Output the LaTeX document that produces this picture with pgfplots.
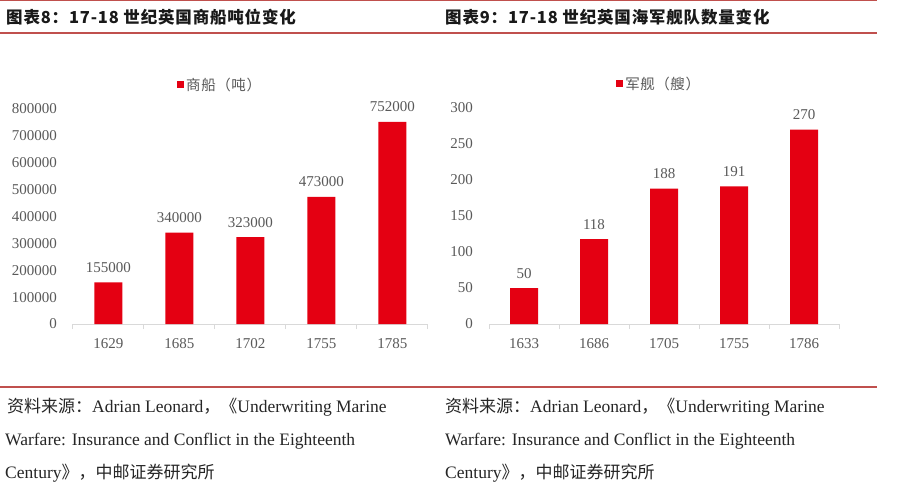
\documentclass[border=0pt]{standalone}
\usepackage{fontspec}
\setmainfont{Liberation Serif}
\newfontfamily\cjk{Noto Sans CJK SC}
\newfontfamily\cjkt{Noto Sans CJK SC}[LetterSpace=5]
\newfontfamily\cjkl{Noto Sans CJK SC}[LetterSpace=4]
\usepackage{pgfplots}
\pgfplotsset{compat=1.18}
\definecolor{barred}{RGB}{228,0,18}
\definecolor{linered}{RGB}{192,80,77}
\definecolor{ticktxt}{RGB}{89,89,89}
\definecolor{axisgray}{RGB}{217,217,217}
\definecolor{srctxt}{RGB}{38,38,38}
\definecolor{titletxt}{RGB}{25,25,25}
\pgfplotsset{
  mybar/.style={
    scale only axis, ybar, bar width=28pt,
    xmin=-0.5, xmax=4.5, ymin=0,
    xtick={0,1,2,3,4},
    major tick length=0pt,
    major x tick style={draw=none},
    extra x ticks={-0.5,0.5,1.5,2.5,3.5,4.5},
    extra x tick labels={},
    extra x tick style={major tick length=5pt, major x tick style={draw=axisgray, line width=1pt}},
    tick align=outside,
    axis lines*=left,
    x axis line style={draw=axisgray, line width=1pt},
    y axis line style={draw=none},
    major y tick style={draw=none},
    scaled y ticks=false,
    /pgf/number format/.cd, fixed, precision=0, 1000 sep={}, assume math mode=true,
    /pgfplots/.cd,
    xticklabel style={font=\fontsize{15}{15}\selectfont, text=ticktxt, anchor=base, inner sep=0pt, yshift=-24pt},
    yticklabel style={font=\fontsize{15}{15}\selectfont, text=ticktxt, anchor=east, inner sep=0pt, xshift=-16pt},
    nodes near coords,
    every node near coord/.append style={font=\fontsize{15}{15}\selectfont, text=ticktxt, anchor=base, inner sep=0pt, yshift=10pt},
    legend style={draw=none, fill=none, inner sep=0pt, font=\cjkl\fontsize{14.5}{14.5}\selectfont, text=ticktxt},
    legend image code/.code={\fill[barred] (0pt,-3.5pt) rectangle (7pt,3.5pt);},
  }
}
\begin{document}
\begin{tikzpicture}
\path[use as bounding box, fill=white] (0,0) rectangle (900pt,488pt);
% rules
\draw[linered, line width=1.2pt] (0,487.4pt) -- (877pt,487.4pt);
\draw[linered, line width=1.2pt] (0,455pt) -- (877pt,455pt);
\draw[linered, line width=1.2pt] (0,101pt) -- (877pt,101pt);
% titles
\node[anchor=west, inner sep=0pt, text=titletxt] at (6pt,470.5pt) {\cjkt\bfseries\fontsize{16.5}{16.5}\selectfont 图表8：17-18 世纪英国商船吨位变化};
\node[anchor=west, inner sep=0pt, text=titletxt] at (445pt,470.5pt) {\cjkt\bfseries\fontsize{16.5}{16.5}\selectfont 图表9：17-18 世纪英国海军舰队数量变化};
% left chart
\begin{axis}[mybar, at={(73pt,164pt)}, anchor=south west,
  width=355pt, height=215pt, ymax=800000, ytick distance=100000,
  xticklabels={1629,1685,1702,1755,1785},
  legend style={at={(axis description cs:0.293,1.112)}, anchor=west}]
\addplot[fill=barred, draw=none] coordinates {(0,155000) (1,340000) (2,323000) (3,473000) (4,752000)};
\addlegendentry{商船（吨）}
\end{axis}
% right chart
\begin{axis}[mybar, at={(489pt,164pt)}, anchor=south west,
  width=350pt, height=216pt, ymax=300, ytick distance=50,
  xticklabels={1633,1686,1705,1755,1786},
  legend style={at={(axis description cs:0.363,1.112)}, anchor=west}]
\addplot[fill=barred, draw=none] coordinates {(0,50) (1,118) (2,188) (3,191) (4,270)};
\addlegendentry{军舰（艘）}
\end{axis}
% sources
\begin{scope}[every node/.style={anchor=base west, inner sep=0pt, text=srctxt, font=\fontsize{17.5}{17.5}\selectfont}]
\node at (7pt,76pt) {{\cjk\fontsize{17}{17}\selectfont 资料来源：}Adrian Leonard{\cjk\fontsize{17}{17}\selectfont ，《}Underwriting Marine};
\node at (5pt,43pt) {Warfare: Insurance and Conflict in the Eighteenth};
\node at (5pt,10pt) {Century{\cjk\fontsize{17}{17}\selectfont 》，中邮证券研究所}};
\node at (445pt,76pt) {{\cjk\fontsize{17}{17}\selectfont 资料来源：}Adrian Leonard{\cjk\fontsize{17}{17}\selectfont ，《}Underwriting Marine};
\node at (445pt,43pt) {Warfare: Insurance and Conflict in the Eighteenth};
\node at (445pt,10pt) {Century{\cjk\fontsize{17}{17}\selectfont 》，中邮证券研究所}};
\end{scope}
\end{tikzpicture}
\end{document}
